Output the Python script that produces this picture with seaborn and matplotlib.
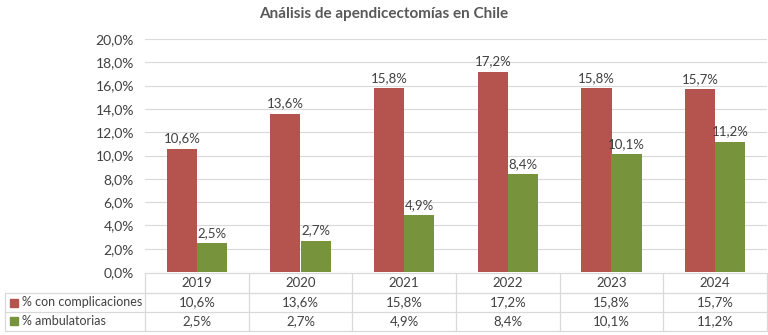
import matplotlib
matplotlib.use("Agg")
import matplotlib.pyplot as plt
import seaborn as sns
import pandas as pd
from matplotlib.lines import Line2D
from matplotlib.patches import Rectangle

years = ["2019", "2020", "2021", "2022", "2023", "2024"]
series_names = ["% con complicaciones", "% ambulatorias"]
complicaciones = [10.6, 13.6, 15.8, 17.2, 15.8, 15.7]
ambulatorias = [2.5, 2.7, 4.9, 8.4, 10.1, 11.2]
colors = ["#B5534F", "#77933C"]
title = "Análisis de apendicectomías en Chile"

def fmt(v, dec=1):
    return f"{v:.{dec}f}".replace(".", ",") + "%"

df = pd.DataFrame({
    "year": years * 2,
    "serie": [series_names[0]] * len(years) + [series_names[1]] * len(years),
    "valor": complicaciones + ambulatorias,
})

sns.set_style("white")
plt.rcParams["font.family"] = ["Lato", "DejaVu Sans"]
txt = "#404040"

W, H = 768, 335
fig = plt.figure(figsize=(W / 100, H / 100), dpi=100)
x0, x1, ytop, ybot = 145, 767, 39, 272
ax = fig.add_axes([x0 / W, 1 - ybot / H, (x1 - x0) / W, (ybot - ytop) / H])

sns.barplot(data=df, x="year", y="valor", hue="serie", palette=colors,
            width=0.58, ax=ax, legend=False, saturation=1, edgecolor="none")

ax.set_ylim(0, 20)
ax.set_yticks([0, 2, 4, 6, 8, 10, 12, 14, 16, 18, 20])
ax.set_yticklabels([fmt(t) for t in ax.get_yticks()], fontsize=10, color=txt)
ax.tick_params(axis="y", length=0, pad=8)
ax.set_xticks([])
ax.set_xlabel("")
ax.set_ylabel("")
ax.set_xlim(-0.5, len(years) - 0.5)
ax.grid(axis="y", color="#D9D9D9", linewidth=0.8)
ax.set_axisbelow(True)
for s in ax.spines.values():
    s.set_visible(False)

data_lists = [complicaciones, ambulatorias]
for cont, vals in zip(ax.containers, data_lists):
    ax.bar_label(cont, labels=[fmt(v) for v in vals], padding=3, fontsize=9.5, color=txt)

fig.text(0.5, 1 - 14 / H, title, ha="center", va="center", fontsize=11,
         fontweight="bold", color="#595959")

# data table below
lc = "#D9D9D9"
def hline(y, xa, xb):
    fig.add_artist(Line2D([xa / W, xb / W], [1 - y / H, 1 - y / H], color=lc, lw=0.9))
def vline(x, ya, yb):
    fig.add_artist(Line2D([x / W, x / W], [1 - ya / H, 1 - yb / H], color=lc, lw=0.9))

hline(272.5, x0, x1)
hline(293, 5, x1)
hline(312, 5, x1)
hline(330.5, 5, x1)
colw = (x1 - x0) / len(years)
for i in range(len(years) + 1):
    vline(x0 + i * colw, 272.5, 330.5)
vline(5, 293, 330.5)

row_y = [283, 302.5, 321]
for i, yr in enumerate(years):
    cx = (x0 + (i + 0.5) * colw) / W
    fig.text(cx, 1 - row_y[0] / H, yr, ha="center", va="center", fontsize=9.5, color=txt)
    fig.text(cx, 1 - row_y[1] / H, fmt(complicaciones[i]), ha="center", va="center", fontsize=9.5, color=txt)
    fig.text(cx, 1 - row_y[2] / H, fmt(ambulatorias[i]), ha="center", va="center", fontsize=9.5, color=txt)

for name, col, yy in zip(series_names, colors, row_y[1:]):
    fig.add_artist(Rectangle((10 / W, 1 - (yy + 4) / H), 8 / W, 8 / H, color=col,
                             transform=fig.transFigure))
    fig.text(22 / W, 1 - yy / H, name, ha="left", va="center", fontsize=9, color=txt)

fig.savefig("out.png", dpi=100)
